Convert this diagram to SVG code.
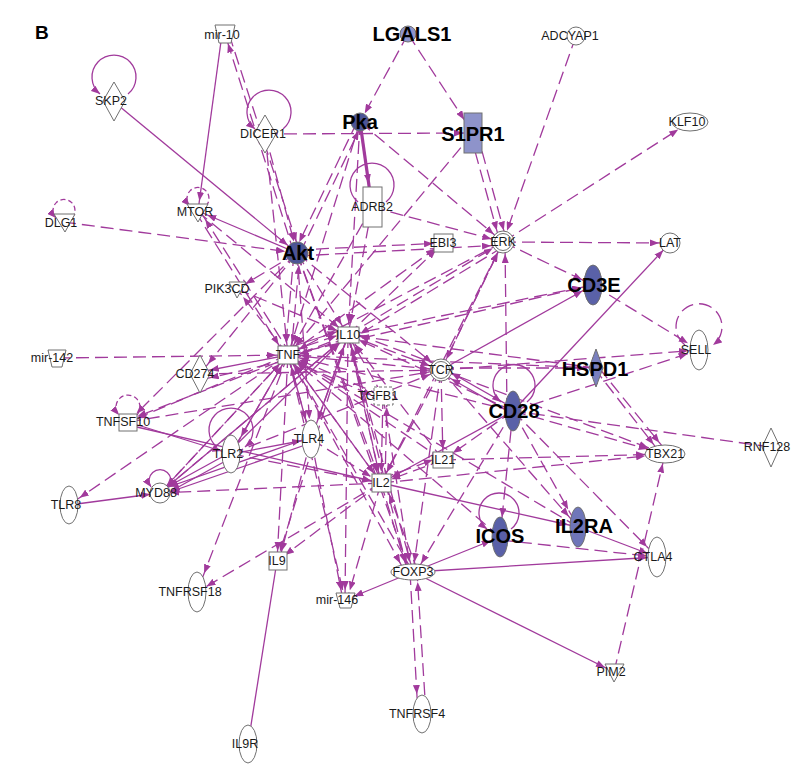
<svg xmlns="http://www.w3.org/2000/svg" width="798" height="770" viewBox="0 0 798 770">
<defs>
<style>
#edges line,#edges path{stroke:#a13a9c;stroke-width:1.3;fill:none}
#edges .d{stroke-dasharray:13 6}
#edges .dl{stroke-dasharray:5 3}
#edges .t{stroke-width:3.2}
.m0{marker-end:url(#m0)}.m10{marker-end:url(#m10)}.m11{marker-end:url(#m11)}.m12{marker-end:url(#m12)}.m13{marker-end:url(#m13)}.m14{marker-end:url(#m14)}.m16{marker-end:url(#m16)}.m18{marker-end:url(#m18)}.m20{marker-end:url(#m20)}.m24{marker-end:url(#m24)}
.n{fill:#fff;stroke:#707070;stroke-width:1}
.nd{fill:#fff;stroke:#707070;stroke-width:1;stroke-dasharray:3 2}
.l{font-family:"Liberation Sans",Arial,sans-serif;font-size:12.5px;fill:#1a1a1a;text-anchor:middle}
.L{font-family:"Liberation Sans",Arial,sans-serif;font-size:20px;font-weight:bold;fill:#000;text-anchor:middle}
</style>
<marker id="m0" viewBox="0 0 9 7" refX="9" refY="3.5" markerWidth="9" markerHeight="7" markerUnits="userSpaceOnUse" orient="auto"><path d="M0,0L9,3.5L0,7z" fill="#a13a9c"/></marker>
<marker id="m10" viewBox="0 0 9 7" refX="19" refY="3.5" markerWidth="9" markerHeight="7" markerUnits="userSpaceOnUse" orient="auto"><path d="M0,0L9,3.5L0,7z" fill="#a13a9c"/></marker>
<marker id="m11" viewBox="0 0 9 7" refX="20" refY="3.5" markerWidth="9" markerHeight="7" markerUnits="userSpaceOnUse" orient="auto"><path d="M0,0L9,3.5L0,7z" fill="#a13a9c"/></marker>
<marker id="m12" viewBox="0 0 9 7" refX="21" refY="3.5" markerWidth="9" markerHeight="7" markerUnits="userSpaceOnUse" orient="auto"><path d="M0,0L9,3.5L0,7z" fill="#a13a9c"/></marker>
<marker id="m13" viewBox="0 0 9 7" refX="22" refY="3.5" markerWidth="9" markerHeight="7" markerUnits="userSpaceOnUse" orient="auto"><path d="M0,0L9,3.5L0,7z" fill="#a13a9c"/></marker>
<marker id="m14" viewBox="0 0 9 7" refX="23" refY="3.5" markerWidth="9" markerHeight="7" markerUnits="userSpaceOnUse" orient="auto"><path d="M0,0L9,3.5L0,7z" fill="#a13a9c"/></marker>
<marker id="m16" viewBox="0 0 9 7" refX="25" refY="3.5" markerWidth="9" markerHeight="7" markerUnits="userSpaceOnUse" orient="auto"><path d="M0,0L9,3.5L0,7z" fill="#a13a9c"/></marker>
<marker id="m18" viewBox="0 0 9 7" refX="27" refY="3.5" markerWidth="9" markerHeight="7" markerUnits="userSpaceOnUse" orient="auto"><path d="M0,0L9,3.5L0,7z" fill="#a13a9c"/></marker>
<marker id="m20" viewBox="0 0 9 7" refX="29" refY="3.5" markerWidth="9" markerHeight="7" markerUnits="userSpaceOnUse" orient="auto"><path d="M0,0L9,3.5L0,7z" fill="#a13a9c"/></marker>
<marker id="m24" viewBox="0 0 9 7" refX="33" refY="3.5" markerWidth="9" markerHeight="7" markerUnits="userSpaceOnUse" orient="auto"><path d="M0,0L9,3.5L0,7z" fill="#a13a9c"/></marker>
</defs>
<rect width="798" height="770" fill="#fff"/>
<text x="35" y="39" font-family="Liberation Sans,Arial,sans-serif" font-size="19" font-weight="bold">B</text>
<g id="edges">
<line class="d m10" x1="408" y1="34" x2="360" y2="122"/>
<line class="d m16" x1="408" y1="34" x2="473" y2="133"/>
<line class="t m24" x1="360" y1="122" x2="372" y2="207"/>
<line class="d m10" x1="265" y1="134" x2="473" y2="133"/>
<line class="d m12" x1="360" y1="122" x2="503" y2="242"/>
<line class="d m12" x1="357" y1="122" x2="294" y2="253"/>
<line class="d m10" x1="300" y1="253" x2="363" y2="122"/>
<line class="d m12" x1="470" y1="133" x2="500" y2="242"/>
<line class="d m12" x1="477" y1="133" x2="507" y2="242"/>
<line class="d m12" x1="473" y1="133" x2="288" y2="355"/>
<line class="d m12" x1="372" y1="207" x2="503" y2="242"/>
<line class="d m12" x1="372" y1="207" x2="288" y2="355"/>
<line class="d m12" x1="372" y1="207" x2="348" y2="335"/>
<line class="m10" x1="222" y1="34" x2="198" y2="211"/>
<line class="d m10" x1="294" y1="253" x2="225" y2="34"/>
<line class="d m12" x1="229" y1="34" x2="300" y2="253"/>
<line class="d m12" x1="265" y1="134" x2="297" y2="253"/>
<line class="d m12" x1="265" y1="134" x2="288" y2="355"/>
<line class="m12" x1="113" y1="101" x2="297" y2="253"/>
<line class="d m12" x1="63" y1="222" x2="297" y2="253"/>
<line class="m10" x1="297" y1="253" x2="198" y2="211"/>
<line class="d m12" x1="195" y1="211" x2="285" y2="355"/>
<line class="d m10" x1="291" y1="355" x2="200" y2="211"/>
<line class="d m12" x1="197" y1="211" x2="348" y2="335"/>
<line class="d m12" x1="576" y1="36" x2="503" y2="242"/>
<line class="d m14" x1="503" y1="242" x2="690" y2="122"/>
<line class="d m11" x1="503" y1="242" x2="670" y2="243"/>
<line class="d m10" x1="297" y1="250" x2="443" y2="243"/>
<line class="d m12" x1="297" y1="256" x2="503" y2="245"/>
<line class="d m12" x1="503" y1="242" x2="593" y2="285"/>
<line class="d m12" x1="294" y1="253" x2="285" y2="355"/>
<line class="d m12" x1="291" y1="355" x2="300" y2="253"/>
<line class="d m12" x1="297" y1="253" x2="348" y2="335"/>
<line class="d m12" x1="297" y1="253" x2="441" y2="370"/>
<line class="d m10" x1="297" y1="253" x2="237" y2="289"/>
<line class="d m13" x1="297" y1="253" x2="200" y2="374"/>
<line class="d m12" x1="297" y1="253" x2="128" y2="422"/>
<line class="d m20" x1="297" y1="253" x2="311" y2="439"/>
<line class="d m10" x1="297" y1="253" x2="410" y2="572"/>
<line class="d m12" x1="297" y1="253" x2="381" y2="483"/>
<line class="d m12" x1="503" y1="242" x2="288" y2="355"/>
<line class="d m12" x1="348" y1="335" x2="503" y2="242"/>
<line class="d m12" x1="503" y1="247" x2="350" y2="340"/>
<line class="d m12" x1="441" y1="370" x2="503" y2="242"/>
<line class="d m12" x1="507" y1="411" x2="505" y2="242"/>
<line class="d m12" x1="381" y1="483" x2="503" y2="242"/>
<line class="d m10" x1="288" y1="355" x2="443" y2="243"/>
<line class="d m10" x1="348" y1="335" x2="443" y2="243"/>
<line class="m12" x1="441" y1="370" x2="593" y2="285"/>
<line class="m10" x1="513" y1="411" x2="670" y2="243"/>
<line class="d m12" x1="348" y1="335" x2="593" y2="285"/>
<line class="d m12" x1="288" y1="355" x2="593" y2="285"/>
<line class="d m13" x1="593" y1="285" x2="699" y2="350"/>
<line class="d m11" x1="441" y1="370" x2="699" y2="350"/>
<line class="d m10" x1="441" y1="368" x2="596" y2="368"/>
<line class="d m12" x1="513" y1="411" x2="699" y2="350"/>
<line class="d m12" x1="594" y1="368" x2="661" y2="454"/>
<line class="d m12" x1="599" y1="368" x2="667" y2="452"/>
<line class="d m18" x1="513" y1="411" x2="665" y2="454"/>
<line class="d" x1="513" y1="411" x2="771" y2="447"/>
<line class="d m20" x1="443" y1="460" x2="665" y2="454"/>
<line class="d m20" x1="381" y1="483" x2="665" y2="454"/>
<line class="d m10" x1="614" y1="672" x2="665" y2="454"/>
<line class="d m14" x1="513" y1="411" x2="657" y2="557"/>
<line class="m10" x1="578" y1="527" x2="657" y2="557"/>
<line class="m10" x1="413" y1="572" x2="657" y2="557"/>
<line class="m10" x1="413" y1="572" x2="614" y2="672"/>
<line class="d m10" x1="500" y1="540" x2="657" y2="557"/>
<line class="m10" x1="381" y1="483" x2="578" y2="527"/>
<line class="d m20" x1="513" y1="411" x2="578" y2="527"/>
<line class="m10" x1="413" y1="572" x2="500" y2="537"/>
<line class="m12" x1="513" y1="408" x2="441" y2="367"/>
<line class="m12" x1="513" y1="414" x2="441" y2="373"/>
<line class="m12" x1="513" y1="411" x2="381" y2="483"/>
<line class="d m12" x1="513" y1="411" x2="443" y2="460"/>
<line class="d m10" x1="513" y1="411" x2="416" y2="572"/>
<line class="d m10" x1="441" y1="370" x2="413" y2="572"/>
<line class="d m10" x1="381" y1="483" x2="408" y2="572"/>
<line class="d m12" x1="418" y1="572" x2="385" y2="483"/>
<line class="d m10" x1="383" y1="396" x2="411" y2="572"/>
<line class="d m10" x1="288" y1="355" x2="405" y2="572"/>
<line class="d m10" x1="348" y1="335" x2="408" y2="572"/>
<line class="d m20" x1="410" y1="572" x2="418" y2="714"/>
<line class="d m10" x1="426" y1="714" x2="417" y2="572"/>
<line class="m10" x1="413" y1="572" x2="345" y2="600"/>
<line class="d m10" x1="311" y1="439" x2="343" y2="600"/>
<line class="d m10" x1="381" y1="483" x2="347" y2="600"/>
<line class="d m10" x1="311" y1="439" x2="279" y2="561"/>
<line class="d m10" x1="381" y1="483" x2="277" y2="561"/>
<line x1="277" y1="561" x2="248" y2="744"/>
<line class="d m11" x1="381" y1="483" x2="197" y2="592"/>
<line class="d m20" x1="288" y1="355" x2="197" y2="592"/>
<line class="d m13" x1="288" y1="355" x2="69" y2="505"/>
<line class="m10" x1="69" y1="505" x2="160" y2="493"/>
<line class="m10" x1="231" y1="452" x2="160" y2="491"/>
<line class="m10" x1="231" y1="458" x2="162" y2="496"/>
<line class="m10" x1="311" y1="437" x2="160" y2="490"/>
<line class="m10" x1="311" y1="443" x2="161" y2="495"/>
<line class="d m10" x1="381" y1="483" x2="160" y2="493"/>
<line class="d m10" x1="288" y1="355" x2="160" y2="493"/>
<line class="d m10" x1="348" y1="335" x2="160" y2="493"/>
<line class="m10" x1="128" y1="422" x2="231" y2="454"/>
<line class="m10" x1="128" y1="425" x2="381" y2="483"/>
<line class="d m10" x1="288" y1="355" x2="128" y2="422"/>
<line class="d m10" x1="348" y1="335" x2="128" y2="420"/>
<line class="m10" x1="288" y1="355" x2="200" y2="372"/>
<line class="d m10" x1="288" y1="360" x2="200" y2="380"/>
<line class="d m12" x1="57" y1="358" x2="288" y2="355"/>
<line class="d m10" x1="288" y1="355" x2="237" y2="289"/>
<line class="d m20" x1="288" y1="355" x2="231" y2="454"/>
<line class="d m20" x1="288" y1="355" x2="311" y2="439"/>
<line class="d m20" x1="348" y1="335" x2="311" y2="439"/>
<line class="m10" x1="231" y1="454" x2="311" y2="439"/>
<line class="m12" x1="231" y1="450" x2="348" y2="335"/>
<line class="m12" x1="231" y1="454" x2="288" y2="355"/>
<line class="d m10" x1="231" y1="454" x2="381" y2="483"/>
<line class="d m12" x1="311" y1="439" x2="381" y2="483"/>
<line class="d m12" x1="288" y1="352" x2="348" y2="332"/>
<line class="d m12" x1="348" y1="338" x2="288" y2="358"/>
<line class="m12" x1="288" y1="348" x2="348" y2="328"/>
<line class="d m12" x1="348" y1="335" x2="441" y2="370"/>
<line class="d m12" x1="441" y1="366" x2="348" y2="331"/>
<line class="d m12" x1="288" y1="355" x2="441" y2="370"/>
<line class="d m12" x1="383" y1="396" x2="348" y2="335"/>
<line class="d m12" x1="383" y1="396" x2="288" y2="355"/>
<line class="d m12" x1="288" y1="359" x2="383" y2="400"/>
<line class="d m11" x1="383" y1="396" x2="381" y2="483"/>
<line class="d m11" x1="385" y1="483" x2="387" y2="396"/>
<line class="d m12" x1="441" y1="370" x2="381" y2="483"/>
<line class="d m11" x1="441" y1="370" x2="443" y2="460"/>
<line class="d m11" x1="443" y1="460" x2="381" y2="483"/>
<line class="d m11" x1="381" y1="479" x2="443" y2="456"/>
<line class="d m11" x1="348" y1="335" x2="381" y2="483"/>
<line class="d m12" x1="288" y1="355" x2="381" y2="483"/>
<line class="d m12" x1="443" y1="460" x2="348" y2="335"/>
<line class="d m12" x1="381" y1="483" x2="350" y2="340"/>
<line class="d m12" x1="381" y1="483" x2="288" y2="355"/>
<line class="d m12" x1="443" y1="460" x2="288" y2="355"/>
<line class="d m12" x1="513" y1="411" x2="288" y2="355"/>
<line class="d m12" x1="513" y1="411" x2="348" y2="335"/>
<line class="d m12" x1="596" y1="368" x2="288" y2="355"/>
<line class="d m12" x1="596" y1="368" x2="348" y2="335"/>
<line class="d m12" x1="500" y1="537" x2="288" y2="355"/>
<line class="d m12" x1="578" y1="527" x2="288" y2="355"/>
<line class="d m12" x1="413" y1="572" x2="288" y2="355"/>
<line class="d m12" x1="413" y1="572" x2="348" y2="335"/>
<line class="m12" x1="311" y1="439" x2="288" y2="355"/>
<line class="m12" x1="311" y1="439" x2="348" y2="335"/>
<line class="d m12" x1="200" y1="374" x2="441" y2="370"/>
<line class="d m12" x1="128" y1="422" x2="441" y2="370"/>
<line class="d m12" x1="237" y1="289" x2="348" y2="335"/>
<line class="d m12" x1="160" y1="493" x2="288" y2="355"/>
<line class="m12" x1="160" y1="493" x2="348" y2="335"/>
<line class="d m12" x1="231" y1="454" x2="441" y2="370"/>
<line class="d m10" x1="288" y1="355" x2="277" y2="561"/>
<line class="d m10" x1="348" y1="335" x2="277" y2="561"/>
<line class="d m10" x1="288" y1="355" x2="345" y2="600"/>
<line class="d m10" x1="348" y1="335" x2="345" y2="600"/>
<line class="d m20" x1="513" y1="411" x2="500" y2="537"/>
<line class="d m14" x1="441" y1="370" x2="578" y2="527"/>
<line class="d m18" x1="441" y1="370" x2="665" y2="454"/>
<line class="d m12" x1="503" y1="242" x2="441" y2="370"/>
<line class="d m12" x1="360" y1="122" x2="288" y2="355"/>
<line class="d m12" x1="360" y1="122" x2="348" y2="335"/>
<path class="m0" d="M128,94 A22,22 0 1 0 100,94"/>
<path class="m0" d="M283,129 A22,22 0 1 0 255,129"/>
<path d="M386,202 A22,22 0 1 0 358,202"/>
<path class="m0" d="M527,402 A21,21 0 1 0 501,402"/>
<path class="m0" d="M511,529 A20,20 0 1 0 487,529"/>
<path class="m0" d="M217,447 A22,22 0 1 1 245,447"/>
<path class="d m0" d="M685,345 A23,23 0 1 1 713,345"/>
<path class="m0" d="M169,487 A11,11 0 1 0 151,487"/>
<path class="dl m0" d="M137,415 A12,12 0 1 0 119,415"/>
<path class="dl m0" d="M72,218 A11,11 0 1 0 56,218"/>
<path class="dl m0" d="M206,206 A11,11 0 1 0 190,206"/>
</g>
<g id="n-mir10"><polygon class="n" points="215,25 235,25 231,43 219,43"/><text class="l" x="222" y="39">mir-10</text></g>
<g id="n-SKP2"><polygon class="n" points="114,82 125,101 114,121 103,101"/><text class="l" x="111" y="105">SKP2</text></g>
<g id="n-DICER1"><polygon class="n" points="265,115 276,134 265,153 254,134"/><text class="l" x="263" y="138">DICER1</text></g>
<g id="n-LGALS1"><circle cx="408" cy="34" r="8" fill="#8e94cc" stroke="#707070"/><text class="L" x="412" y="41">LGALS1</text></g>
<g id="n-Pka"><circle cx="360" cy="122" r="9" fill="#4d5495" stroke="#707070"/><text class="L" x="360" y="129">Pka</text></g>
<g id="n-S1PR1"><rect x="464" y="113" width="18" height="40" fill="#8e93ca" stroke="#707070"/><text class="L" x="473" y="141">S1PR1</text></g>
<g id="n-ADCYAP1"><circle class="n" cx="576" cy="36" r="9"/><text class="l" x="570" y="40">ADCYAP1</text></g>
<g id="n-KLF10"><ellipse class="n" cx="690" cy="122" rx="18" ry="9"/><text class="l" x="687" y="126">KLF10</text></g>
<g id="n-DLG1"><polygon class="n" points="54,214 75,214 65,232"/><text class="l" x="61" y="227">DLG1</text></g>
<g id="n-MTOR"><polygon class="n" points="187,204 208,204 198,222"/><text class="l" x="195" y="216">MTOR</text></g>
<g id="n-ADRB2"><rect class="n" x="363" y="187" width="19" height="40"/><text class="l" x="372" y="211">ADRB2</text></g>
<g id="n-Akt"><circle cx="297" cy="253" r="11" fill="#4d5495" stroke="#707070"/><text class="L" x="298" y="260">Akt</text></g>
<g id="n-EBI3"><rect class="n" x="434" y="234" width="19" height="18"/><text class="l" x="443" y="247">EBI3</text></g>
<g id="n-ERK"><circle class="n" cx="503" cy="242" r="11"/><circle class="n" cx="503" cy="242" r="8.5"/><text class="l" x="503" y="246">ERK</text></g>
<g id="n-LAT"><circle class="n" cx="670" cy="243" r="10"/><text class="l" x="670" y="247">LAT</text></g>
<g id="n-PIK3CD"><polygon class="n" points="229,282 246,282 237,298"/><text class="l" x="227" y="293">PIK3CD</text></g>
<g id="n-CD3E"><ellipse cx="593" cy="285" rx="9" ry="20" fill="#5a61a8" stroke="#707070"/><text class="L" x="594" y="292">CD3E</text></g>
<g id="n-mir142"><polygon class="n" points="48,350 66,350 62,367 52,367"/><text class="l" x="52" y="362">mir-142</text></g>
<g id="n-TNF"><rect class="n" x="278" y="346" width="20" height="18"/><text class="l" x="288" y="359">TNF</text></g>
<g id="n-IL10"><rect class="n" x="338" y="327" width="21" height="16"/><text class="l" x="348" y="339">IL10</text></g>
<g id="n-TCR"><circle class="n" cx="441" cy="370" r="11"/><circle class="n" cx="441" cy="370" r="8.5"/><text class="l" x="441" y="374">TCR</text></g>
<g id="n-SELL"><ellipse class="n" cx="699" cy="350" rx="9" ry="20"/><text class="l" x="696" y="354">SELL</text></g>
<g id="n-CD274"><polygon class="n" points="200,355 210,374 200,393 190,374"/><text class="l" x="195" y="378">CD274</text></g>
<g id="n-HSPD1"><polygon points="596,349 603,368 596,387 589,368" fill="#7a80bf" stroke="#707070"/><text class="L" x="595" y="376">HSPD1</text></g>
<g id="n-CD28"><ellipse cx="513" cy="411" rx="8" ry="20" fill="#5a61a8" stroke="#707070"/><text class="L" x="514" y="418">CD28</text></g>
<g id="n-TGFB1"><rect class="nd" x="374" y="387" width="19" height="18"/><text class="l" x="378" y="400">TGFB1</text></g>
<g id="n-TNFSF10"><rect class="n" x="119" y="414" width="18" height="17"/><text class="l" x="123" y="426">TNFSF10</text></g>
<g id="n-TLR2"><ellipse class="n" cx="231" cy="454" rx="9" ry="19"/><text class="l" x="228" y="458">TLR2</text></g>
<g id="n-TLR4"><ellipse class="n" cx="311" cy="439" rx="9" ry="19"/><text class="l" x="309" y="443">TLR4</text></g>
<g id="n-TBX21"><ellipse class="n" cx="665" cy="454" rx="20" ry="9"/><text class="l" x="665" y="458">TBX21</text></g>
<g id="n-RNF128"><polygon class="n" points="771,428 780,447 771,467 762,447"/><text class="l" x="767" y="451">RNF128</text></g>
<g id="n-IL21"><rect class="n" x="433" y="452" width="20" height="16"/><text class="l" x="443" y="464">IL21</text></g>
<g id="n-IL2"><rect class="n" x="372" y="474" width="19" height="18"/><text class="l" x="381" y="487">IL2</text></g>
<g id="n-MYD88"><circle class="n" cx="160" cy="493" r="10"/><text class="l" x="156" y="497">MYD88</text></g>
<g id="n-TLR8"><ellipse class="n" cx="69" cy="505" rx="9" ry="19"/><text class="l" x="66" y="509">TLR8</text></g>
<g id="n-ICOS"><ellipse cx="500" cy="537" rx="8" ry="20" fill="#5960a8" stroke="#707070"/><text class="L" x="500" y="543">ICOS</text></g>
<g id="n-IL2RA"><ellipse cx="578" cy="527" rx="8" ry="20" fill="#6f76b9" stroke="#707070"/><text class="L" x="584" y="533">IL2RA</text></g>
<g id="n-CTLA4"><ellipse class="n" cx="657" cy="557" rx="9" ry="20"/><text class="l" x="653" y="561">CTLA4</text></g>
<g id="n-IL9"><rect class="n" x="269" y="552" width="18" height="18"/><text class="l" x="277" y="565">IL9</text></g>
<g id="n-FOXP3"><ellipse class="n" cx="413" cy="572" rx="22" ry="8"/><text class="l" x="413" y="576">FOXP3</text></g>
<g id="n-mir146"><polygon class="n" points="336,593 355,593 351,608 340,608"/><text class="l" x="337" y="604">mir-146</text></g>
<g id="n-TNFRSF18"><ellipse class="n" cx="197" cy="592" rx="9" ry="20"/><text class="l" x="190" y="596">TNFRSF18</text></g>
<g id="n-PIM2"><polygon class="n" points="605,664 624,664 614,682"/><text class="l" x="611" y="676">PIM2</text></g>
<g id="n-TNFRSF4"><ellipse class="n" cx="422" cy="714" rx="9" ry="19"/><text class="l" x="417" y="718">TNFRSF4</text></g>
<g id="n-IL9R"><ellipse class="n" cx="248" cy="744" rx="9" ry="19"/><text class="l" x="245" y="748">IL9R</text></g>
</svg>
